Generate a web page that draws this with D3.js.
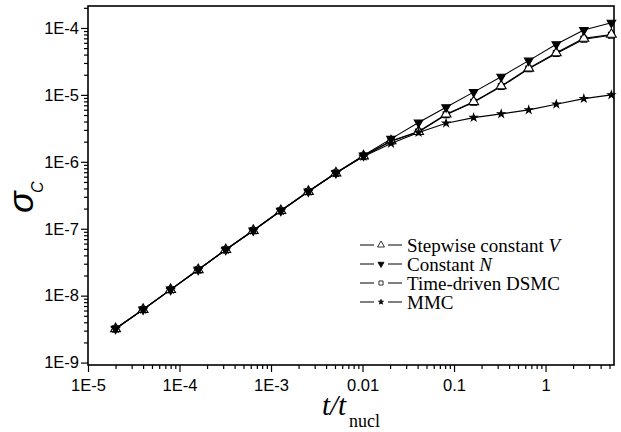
<!DOCTYPE html>
<html lang="en">
<head>
    <meta charset="UTF-8">
    <title>sigma_C vs t/t_nucl</title>
    <script src="https://d3js.org/d3.v7.min.js"></script>
    <style>
        body { margin: 0; background: white; }
        .tick-label { font-family: "Liberation Sans", Arial, sans-serif; font-size: 16.5px; fill: #000; }
        .legend-text { font-family: "Liberation Serif", "Times New Roman", serif; font-size: 19px; fill: #000; }
    </style>
</head>
<body>
    <div id="chart"></div>
    <script>
        // time points t/t_nucl (doubling from 2E-5)
        const times = [2e-5, 4e-5, 8e-5, 1.6e-4, 3.2e-4, 6.4e-4, 1.28e-3, 2.56e-3, 5.12e-3, 0.01024,
                       0.02048, 0.04096, 0.08192, 0.16384, 0.32768, 0.65536, 1.31072, 2.62144, 5.24288];

        const stepwiseV = [3.2e-9, 6.2e-9, 1.23e-8, 2.44e-8, 4.86e-8, 9.4e-8, 1.86e-7, 3.6e-7, 6.8e-7, 1.22e-6,
                           2.05e-6, 2.83e-6, 5.15e-6, 7.9e-6, 1.36e-5, 2.5e-5, 4.25e-5, 7.0e-5, 8.0e-5];
        const constantN = [3.2e-9, 6.2e-9, 1.23e-8, 2.44e-8, 4.86e-8, 9.4e-8, 1.86e-7, 3.6e-7, 6.8e-7, 1.24e-6,
                           2.2e-6, 3.86e-6, 6.55e-6, 1.1e-5, 1.87e-5, 3.25e-5, 5.7e-5, 9.3e-5, 1.2e-4];
        const timeDSMC  = [3.2e-9, 6.2e-9, 1.23e-8, 2.44e-8, 4.86e-8, 9.4e-8, 1.86e-7, 3.6e-7, 6.8e-7, 1.22e-6,
                           2.03e-6, 2.8e-6, 5.05e-6, 7.75e-6, 1.33e-5, 2.45e-5, 4.15e-5, 6.8e-5, 7.8e-5];
        const mmc       = [3.2e-9, 6.2e-9, 1.23e-8, 2.44e-8, 4.86e-8, 9.4e-8, 1.86e-7, 3.6e-7, 6.8e-7, 1.2e-6,
                           1.88e-6, 2.75e-6, 3.78e-6, 4.58e-6, 5.2e-6, 5.97e-6, 7.26e-6, 8.8e-6, 1.0e-5];

        const seriesNames = ["Stepwise constant ", "Constant ", "Time-driven DSMC", "MMC"];
        const seriesItalic = ["V", "N", "", ""];

        const xTickValues = [1e-5, 1e-4, 1e-3, 0.01, 0.1, 1];
        const xTickLabels = ["1E-5", "1E-4", "1E-3", "0.01", "0.1", "1"];
        const yTickValues = [1e-9, 1e-8, 1e-7, 1e-6, 1e-5, 1e-4];
        const yTickLabels = ["1E-9", "1E-8", "1E-7", "1E-6", "1E-5", "1E-4"];

        const width = 621;
        const height = 432;
        const plot = {left: 88, right: 614, top: 6, bottom: 365};

        const svg = d3.select("#chart")
            .append("svg")
            .attr("width", width)
            .attr("height", height);

        const x = d3.scaleLog()
            .domain([1e-5, 5.6])
            .range([plot.left, plot.right]);

        const y = d3.scaleLog()
            .domain([9.2e-10, 2.13e-4])
            .range([plot.bottom, plot.top]);

        // minor ticks 2..9 per decade
        function minorTicks(scale) {
            const [a, b] = scale.domain();
            const out = [];
            for (let e = Math.floor(Math.log10(a)); e <= Math.ceil(Math.log10(b)); e++) {
                for (let m = 2; m <= 9; m++) {
                    const v = m * Math.pow(10, e);
                    if (v >= a && v <= b) out.push(v);
                }
            }
            return out;
        }

        // x axis
        const xAxisMinor = svg.append("g")
            .attr("transform", `translate(0,${plot.bottom})`)
            .call(d3.axisBottom(x).tickValues(minorTicks(x)).tickSize(4).tickFormat(""));
        const xAxis = svg.append("g")
            .attr("transform", `translate(0,${plot.bottom})`)
            .call(d3.axisBottom(x).tickValues(xTickValues).tickSize(7)
                .tickFormat((d, i) => xTickLabels[i]).tickPadding(7));

        // y axis
        const yAxisMinor = svg.append("g")
            .attr("transform", `translate(${plot.left},0)`)
            .call(d3.axisLeft(y).tickValues(minorTicks(y)).tickSize(4).tickFormat(""));
        const yAxis = svg.append("g")
            .attr("transform", `translate(${plot.left},0)`)
            .call(d3.axisLeft(y).tickValues(yTickValues).tickSize(7)
                .tickFormat((d, i) => yTickLabels[i]).tickPadding(2));

        [xAxisMinor, xAxis, yAxisMinor, yAxis].forEach(g => {
            g.select(".domain").remove();
            g.selectAll("line").attr("stroke", "#000").attr("stroke-width", 1.2);
            g.selectAll("text").attr("class", "tick-label").attr("font-size", null).attr("font-family", null);
        });

        // frame
        svg.append("rect")
            .attr("x", plot.left)
            .attr("y", plot.top)
            .attr("width", plot.right - plot.left)
            .attr("height", plot.bottom - plot.top)
            .attr("fill", "none")
            .attr("stroke", "#000")
            .attr("stroke-width", 1.6);

        // series (legend order)
        const series = [
            {values: stepwiseV, symbol: d3.symbolTriangle, size: 42, fill: "white", rotate: 0},
            {values: constantN, symbol: d3.symbolTriangle, size: 32, fill: "black", rotate: 180},
            {values: timeDSMC, symbol: d3.symbolSquare, size: 34, fill: "white", rotate: 0},
            {values: mmc, symbol: d3.symbolStar, size: 16, fill: "black", rotate: 0}
        ];
        // marker draw order: squares below triangles
        const drawOrder = [2, 0, 1, 3];

        const line = d3.line()
            .x(d => x(d[0]))
            .y(d => y(d[1]));

        series.forEach(s => {
            const pts = times.map((t, i) => [t, s.values[i]]);
            svg.append("path")
                .datum(pts)
                .attr("d", line)
                .attr("fill", "none")
                .attr("stroke", "#000")
                .attr("stroke-width", 1.1);
        });

        drawOrder.forEach(k => {
            const s = series[k];
            const pts = times.map((t, i) => [t, s.values[i]]);
            svg.append("g")
                .selectAll("path")
                .data(pts)
                .enter()
                .append("path")
                .attr("d", d3.symbol().type(s.symbol).size(s.size))
                .attr("transform", d => `translate(${x(d[0])},${y(d[1])}) rotate(${s.rotate})`)
                .attr("fill", s.fill)
                .attr("stroke", "#000")
                .attr("stroke-width", 1.1);
        });

        // legend
        const legend = svg.append("g").attr("transform", "translate(360,245)");
        series.forEach((s, i) => {
            const row = legend.append("g").attr("transform", `translate(0,${i * 19})`);
            row.append("line")
                .attr("x1", 0).attr("x2", 14).attr("y1", 0).attr("y2", 0)
                .attr("stroke", "#000").attr("stroke-width", 1);
            row.append("line")
                .attr("x1", 28).attr("x2", 42).attr("y1", 0).attr("y2", 0)
                .attr("stroke", "#000").attr("stroke-width", 1);
            row.append("path")
                .attr("d", d3.symbol().type(s.symbol).size(s.size * 0.5))
                .attr("transform", `translate(21,0) rotate(${s.rotate})`)
                .attr("fill", s.fill)
                .attr("stroke", "#000")
                .attr("stroke-width", 0.8);
            const txt = row.append("text")
                .attr("class", "legend-text")
                .attr("x", 47)
                .attr("y", 6.5);
            txt.append("tspan").text(seriesNames[i]);
            if (seriesItalic[i]) txt.append("tspan").attr("font-style", "italic").text(seriesItalic[i]);
        });

        // y axis title: sigma_C (rotated)
        svg.append("text")
            .attr("transform", "translate(33,213) rotate(-90)")
            .attr("font-family", "'Liberation Sans', Arial, sans-serif")
            .attr("font-style", "italic")
            .attr("font-size", 36)
            .text("σ");
        svg.append("text")
            .attr("transform", "translate(43,193) rotate(-90)")
            .attr("font-family", "'Liberation Sans', Arial, sans-serif")
            .attr("font-style", "italic")
            .attr("font-size", 16)
            .text("C");

        // x axis title: t/t_nucl
        svg.append("text")
            .attr("x", 322)
            .attr("y", 415)
            .attr("font-family", "'Liberation Serif', 'Times New Roman', serif")
            .attr("font-style", "italic")
            .attr("font-size", 29)
            .text("t/t");
        svg.append("text")
            .attr("x", 349)
            .attr("y", 427)
            .attr("font-family", "'Liberation Serif', 'Times New Roman', serif")
            .attr("font-size", 18)
            .text("nucl");
    </script>
</body>
</html>
